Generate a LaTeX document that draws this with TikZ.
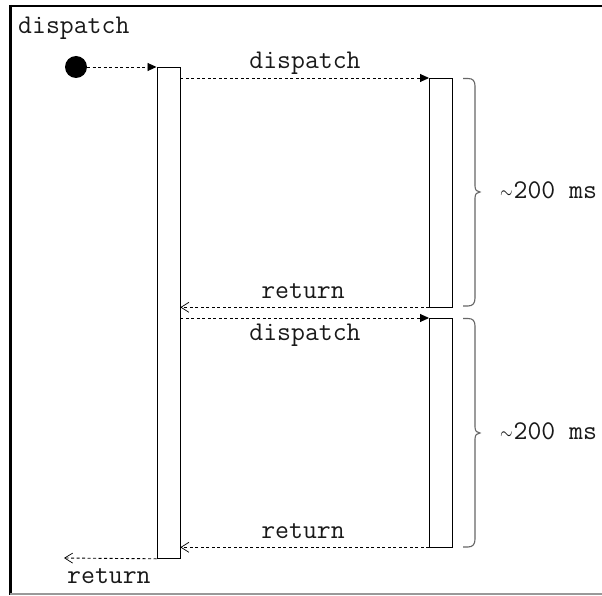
\documentclass[tikz,border=0pt]{standalone}
\usepackage{fontspec}
\usepackage{graphicx}
\usetikzlibrary{arrows.meta}
\newcommand{\midtilde}{\scalebox{0.65}[0.85]{$\sim$}\kern0.03em}
\begin{document}
\begin{tikzpicture}[x=1pt,y=-1pt,
  lifebox/.style={draw=black,line width=0.8pt,minimum width=23pt,anchor=north west,inner sep=0pt},
  msg/.style={line width=0.9pt,dash pattern=on 3pt off 2.5pt},
  call/.style={msg,-{Triangle[length=9pt,width=8pt]}},
  ret/.style={msg,-{Straight Barb[length=8pt,width=10pt,line width=0.7pt]}},
  lbl/.style={font=\ttfamily\fontsize{27}{28}\selectfont,inner sep=0pt,text=black!90},
  bracestyle/.style={draw=black!60,line width=1.1pt}
]
\useasboundingbox (0,0) rectangle (602,596);
% frame
\draw[line width=2pt] (10,6) -- (602,6);
\draw[line width=3pt] (10.5,5) -- (10.5,595);
\draw[black!40,line width=1.5pt] (10,594) -- (602,594);

\node[lbl,anchor=base west] (title) at (18,34) {dispatch};
\node[circle,fill=black,minimum size=22pt,inner sep=0pt] (dot) at (76,67) {};

\node[lifebox,minimum height=491pt] (main) at (156.5,67) {};
\node[lifebox,minimum height=228.5pt] (c1) at (429,78) {};
\node[lifebox,minimum height=228.5pt] (c2) at (429,318) {};

\coordinate (end) at (64,558);

\draw[call] (dot.east) -- (main.north west);
\draw[call] (main.east |- c1.north) -- (c1.north west);
\draw[ret] (c1.south west) -- (main.east |- c1.south);
\draw[call] (main.east |- c2.north) -- (c2.north west);
\draw[ret] (c2.south west) -- (main.east |- c2.south);
\draw[ret] (main.south west) -- (end);

\node[lbl,anchor=base] (d1) at (305,69) {dispatch};
\node[lbl,anchor=base] (r1) at (303,298) {return};
\node[lbl,anchor=base] (d2) at (305,340) {dispatch};
\node[lbl,anchor=base] (r2) at (303,538) {return};
\node[lbl,anchor=base west] (r0) at (67,583) {return};

% braces
\draw[bracestyle] (463,78.5) -- (468,78.5) .. controls (473,78.5) and (475,81) .. (475,86)
  -- (475,186) .. controls (475,190) and (477,192) .. (480,192)
  .. controls (477,192) and (475,194) .. (475,198)
  -- (475,298) .. controls (475,303) and (473,306) .. (468,306) -- (463,306);
\draw[bracestyle] (463,318.5) -- (468,318.5) .. controls (473,318.5) and (475,321) .. (475,326)
  -- (475,427) .. controls (475,431) and (477,433) .. (480,433)
  .. controls (477,433) and (475,435) .. (475,439)
  -- (475,539) .. controls (475,544) and (473,547) .. (468,547) -- (463,547);
\node[lbl,anchor=base west] (t1) at (500,198) {\midtilde200 ms};
\node[lbl,anchor=base west] (t2) at (500,439) {\midtilde200 ms};
\end{tikzpicture}
\end{document}
